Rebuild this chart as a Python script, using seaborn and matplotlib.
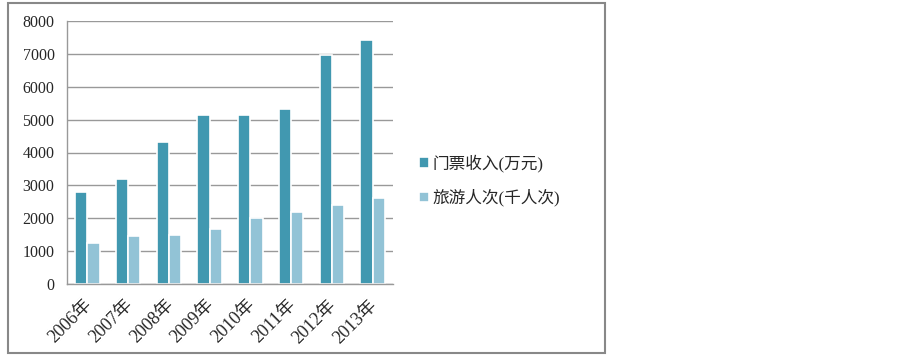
import matplotlib
matplotlib.use("Agg")
import matplotlib.pyplot as plt
import matplotlib.transforms as mtransforms
import seaborn as sns
import pandas as pd
import numpy as np
from matplotlib.patches import Rectangle

years = ["2006年", "2007年", "2008年", "2009年", "2010年", "2011年", "2012年", "2013年"]
series_names = ["门票收入(万元)", "旅游人次(千人次)"]
ticket_income = [2800, 3180, 4320, 5130, 5150, 5320, 6970, 7420]
visitors = [1250, 1450, 1500, 1680, 2000, 2190, 2400, 2610]
y_ticks = [0, 1000, 2000, 3000, 4000, 5000, 6000, 7000, 8000]

colors = ["#4198B0", "#92C3D6"]

df = pd.DataFrame({
    "year": years * 2,
    "value": ticket_income + visitors,
    "series": [series_names[0]] * len(years) + [series_names[1]] * len(years),
})

sns.set_style("white")
plt.rcParams["font.family"] = ["Liberation Serif", "Noto Sans CJK SC"]

fig = plt.figure(figsize=(9.02, 3.56), dpi=100)
ax = fig.add_axes([67 / 902, 1 - 284 / 356, (393 - 67) / 902, (284 - 21) / 356])

sns.barplot(data=df, x="year", y="value", hue="series", palette=colors,
            width=0.6, edgecolor="white", linewidth=1.2, ax=ax, saturation=1)

ax.set_xlim(-0.5, len(years) - 0.5)
ax.set_ylim(0, 8000)
ax.set_yticks(y_ticks)
ax.set_yticklabels([str(v) for v in y_ticks], fontsize=11.5)
ax.set_xlabel("")
ax.set_ylabel("")
ax.set_xticks(np.arange(len(years)))
ax.set_xticklabels(years, rotation=45, ha="right", rotation_mode="anchor", fontsize=13)
ax.tick_params(axis="x", which="major", length=0, pad=9)
offset = mtransforms.ScaledTranslation(-4 / 100, 0, fig.dpi_scale_trans)
for lbl in ax.get_xticklabels():
    lbl.set_transform(lbl.get_transform() + offset)
ax.set_xticks(np.arange(len(years) + 1) - 0.5, minor=True)
ax.tick_params(axis="x", which="minor", length=5, color="#999999", direction="out")
ax.tick_params(axis="y", length=5, color="#999999", direction="out", pad=4)
ax.yaxis.grid(True, color="#999999", linewidth=1)
ax.set_axisbelow(True)
for s in ["top", "right"]:
    ax.spines[s].set_visible(False)
for s in ["left", "bottom"]:
    ax.spines[s].set_color("#999999")
    ax.spines[s].set_linewidth(1)

ax.legend(loc="upper left", bbox_to_anchor=(412 / 902, 1 - 148 / 356),
          bbox_transform=fig.transFigure, frameon=False, fontsize=12,
          handlelength=0.6, handleheight=0.6, handletextpad=0.2,
          labelspacing=1.0, borderaxespad=0)

fig.patches.append(Rectangle((8 / 902, 3 / 356), (605 - 8) / 902, (353 - 3) / 356,
                             transform=fig.transFigure, fill=False,
                             edgecolor="#888888", linewidth=1.5, figure=fig))

fig.savefig("out.png", dpi=100)
